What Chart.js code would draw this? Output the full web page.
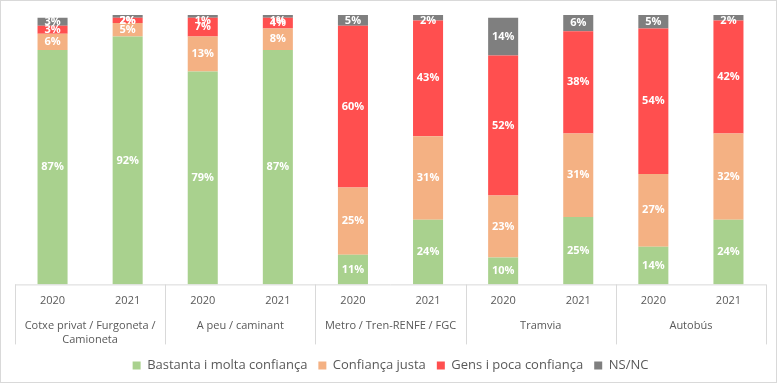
<!DOCTYPE html>
<html>
<head>
<meta charset="utf-8">
<script src="https://cdn.jsdelivr.net/npm/chart.js@4/dist/chart.umd.min.js"></script>
<style>
  html, body { margin: 0; padding: 0; background: #fff; }
  #wrap { position: absolute; left: 0; top: 0; width: 775px; height: 381px; border: 1px solid #D9D9D9; }
</style>
</head>
<body>
<div id="wrap"><canvas id="chart"></canvas></div>
<script>
// Dades
const years = ['2020', '2021', '2020', '2021', '2020', '2021', '2020', '2021', '2020', '2021'];
const groups = [['Cotxe privat / Furgoneta /', 'Camioneta'], 'A peu / caminant', 'Metro / Tren-RENFE / FGC', 'Tramvia', 'Autobús'];
const bastanta = [87, 92, 79, 87, 11, 24, 10, 25, 14, 24];
const justa    = [6, 5, 13, 8, 25, 31, 23, 31, 27, 32];
const gens     = [3, 2, 7, 4, 60, 43, 52, 38, 54, 42];
const nsnc     = [3, 2, 1, 1, 5, 2, 14, 6, 5, 2];

const seriesNames = ['Bastanta i molta confiança', 'Confiança justa', 'Gens i poca confiança', 'NS/NC'];
const seriesColors = ['#A9D18E', '#F4B183', '#FF4F4F', '#7F7F7F'];

// etiquetes blanques al mig de cada segment
const labelPlugin = {
    id: 'segLabels',
    afterDatasetsDraw(chart) {
        const ctx = chart.ctx;
        ctx.save();
        ctx.fillStyle = '#fff';
        ctx.font = 'bold 11px "Open Sans", sans-serif';
        ctx.textAlign = 'center';
        ctx.textBaseline = 'middle';
        chart.data.datasets.forEach((ds, i) => {
            chart.getDatasetMeta(i).data.forEach((bar, j) => {
                const v = ds.data[j];
                const yMid = Math.max((bar.y + bar.base) / 2, chart.chartArea.top + 6);
                ctx.fillText(v + '%', bar.x, yMid);
            });
        });
        ctx.restore();
    }
};

// separadors verticals sota l'eix
const sepPlugin = {
    id: 'groupSeps',
    afterDraw(chart) {
        const x = chart.scales.x;
        const ctx = chart.ctx;
        const bottom = chart.chartArea.bottom;
        ctx.save();
        ctx.strokeStyle = '#D9D9D9';
        ctx.lineWidth = 1;
        ctx.beginPath();
        ctx.moveTo(chart.chartArea.left, bottom + 0.5);
        ctx.lineTo(chart.chartArea.right, bottom + 0.5);
        const half = (x.getPixelForValue(1) - x.getPixelForValue(0)) / 2;
        for (let g = 0; g <= groups.length; g++) {
            const px = Math.round(x.getPixelForValue(g * 2) - half) + 0.5;
            ctx.moveTo(px, bottom);
            ctx.lineTo(px, bottom + 60);
        }
        ctx.stroke();
        ctx.restore();
    }
};

new Chart(document.getElementById('chart'), {
    type: 'bar',
    data: {
        labels: years,
        datasets: [bastanta, justa, gens, nsnc].map((d, i) => ({
            label: seriesNames[i],
            data: d,
            backgroundColor: seriesColors[i],
            borderWidth: 0,
            barPercentage: 0.4,
            categoryPercentage: 1.0
        }))
    },
    options: {
        responsive: true,
        maintainAspectRatio: false,
        animation: false,
        layout: { padding: { left: 14, right: 10, top: 14, bottom: 0 } },
        plugins: {
            legend: {
                position: 'bottom',
                labels: {
                    color: '#595959',
                    font: { size: 13, family: '"Open Sans", sans-serif' },
                    boxWidth: 8,
                    boxHeight: 8,
                    padding: 11
                }
            },
            tooltip: { enabled: false }
        },
        scales: {
            x: {
                stacked: true,
                grid: { display: false, drawTicks: false },
                border: { display: false },
                ticks: { color: '#595959', font: { size: 11, family: '"Open Sans", sans-serif' }, padding: 10, maxRotation: 0 }
            },
            x2: {
                type: 'category',
                labels: groups,
                position: 'bottom',
                grid: { display: false, drawTicks: false },
                border: { display: false },
                ticks: { color: '#595959', font: { size: 11, family: '"Open Sans", sans-serif' }, padding: 2, maxRotation: 0 }
            },
            y: {
                stacked: true,
                display: false,
                min: 0,
                max: 100
            }
        }
    },
    plugins: [labelPlugin, sepPlugin]
});
</script>
</body>
</html>
